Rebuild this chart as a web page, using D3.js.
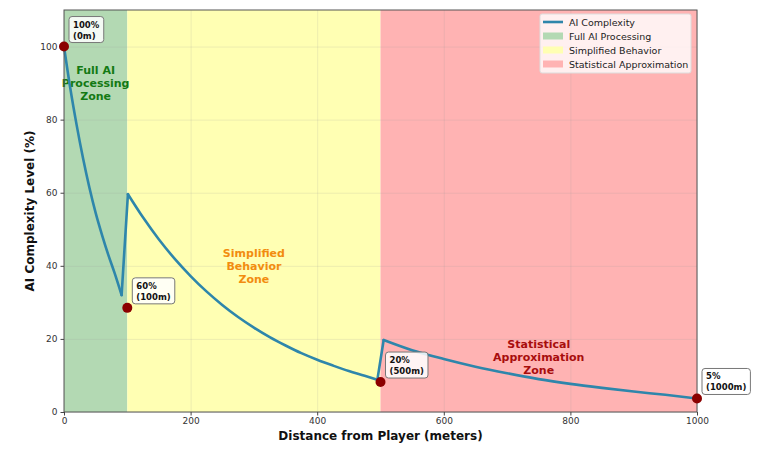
<!DOCTYPE html>
<html>
<head>
<meta charset="utf-8">
<script src="https://cdn.jsdelivr.net/npm/d3@7"></script>
<style>
body { margin: 0; background: #fff; font-family: "DejaVu Sans", sans-serif; }
.tick text { font-size: 9px; fill: #333; font-family: "DejaVu Sans", sans-serif; }
.axis-title { font-size: 12px; font-weight: bold; fill: #111; }
.zone-label { font-size: 11px; font-weight: bold; text-anchor: middle; }
.note { font-size: 8.5px; font-weight: bold; fill: #111; }
.legend text { font-size: 9.5px; fill: #222; }
</style>
</head>
<body>
<div id="chart"></div>
<script>
// curve: distance (m) and complexity (%)
var distances = [0, 10, 20, 30, 40, 50, 60, 70, 80, 91,
                 101, 125, 150, 175, 200, 225, 250, 275, 300, 325, 350, 375, 400, 425, 450, 475, 495,
                 505, 550, 600, 650, 700, 750, 800, 850, 900, 950, 1000];
var complexity = [100, 88.5, 78.5, 69.5, 61.5, 54.5, 48.5, 43, 38, 32,
                  59.6, 53.2, 47.2, 41.9, 37.2, 33.0, 29.3, 26.0, 23.1, 20.5, 18.2, 16.1, 14.3, 12.7, 11.2, 9.9, 8.8,
                  19.7, 16.9, 14.5, 12.4, 10.6, 9.0, 7.7, 6.6, 5.6, 4.7, 3.7];
// index ranges of the three smooth pieces (jumps in between)
var pieces = [[0, 9], [10, 26], [27, 37]];

// marked points
var markX = [0, 100, 500, 1000];
var markY = [100, 28.5, 8.2, 3.7];
var markText = [["100%", "(0m)"], ["60%", "(100m)"], ["20%", "(500m)"], ["5%", "(1000m)"]];

// zones
var zoneNames = ["Full AI Processing", "Simplified Behavior", "Statistical Approximation"];
var zoneStart = [0, 100, 500];
var zoneEnd = [100, 500, 1000];
var zoneColors = ["#b3d9b3", "#ffffb3", "#ffb3b3"];
var zoneLabels = [["Full AI", "Processing", "Zone"], ["Simplified", "Behavior", "Zone"], ["Statistical", "Approximation", "Zone"]];
var zoneLabelX = [50, 300, 750];
var zoneLabelY = [90, 40, 15];
var zoneLabelColors = ["#137a13", "#f28c0f", "#a80d0d"];

var xTicks = [0, 200, 400, 600, 800, 1000];
var yTicks = [0, 20, 40, 60, 80, 100];

var margin = {top: 10, right: 71, bottom: 52, left: 64},
    width = 768 - margin.left - margin.right,
    height = 464 - margin.top - margin.bottom;

var svg = d3.select("#chart").append("svg")
    .attr("width", 768).attr("height", 464)
  .append("g")
    .attr("transform", "translate(" + margin.left + "," + margin.top + ")");

var xScale = d3.scaleLinear().domain([0, 1000]).range([0, width]);
var yScale = d3.scaleLinear().domain([0, 110]).range([height, 0]);

// zone backgrounds
svg.selectAll("rect.zone")
   .data(zoneNames)
   .enter().append("rect")
   .attr("class", "zone")
   .attr("x", function(d, i) { return xScale(zoneStart[i]); })
   .attr("y", 0)
   .attr("width", function(d, i) { return xScale(zoneEnd[i]) - xScale(zoneStart[i]); })
   .attr("height", height)
   .attr("fill", function(d, i) { return zoneColors[i]; });

// grid
svg.append("g")
   .attr("transform", "translate(0," + height + ")")
   .call(d3.axisBottom(xScale).tickValues(xTicks).tickSize(-height).tickFormat(""))
   .call(function(g) { g.select(".domain").remove(); })
   .selectAll("line").attr("stroke", "#999").attr("stroke-opacity", 0.18);
svg.append("g")
   .call(d3.axisLeft(yScale).tickValues(yTicks).tickSize(-width).tickFormat(""))
   .call(function(g) { g.select(".domain").remove(); })
   .selectAll("line").attr("stroke", "#999").attr("stroke-opacity", 0.18);

// zone labels
zoneLabels.forEach(function(lines, i) {
  var t = svg.append("text")
     .attr("class", "zone-label")
     .attr("x", xScale(zoneLabelX[i]))
     .attr("y", yScale(zoneLabelY[i]) - 13 + 4)
     .attr("fill", zoneLabelColors[i]);
  lines.forEach(function(s, j) {
    t.append("tspan").attr("x", xScale(zoneLabelX[i])).attr("dy", j == 0 ? 0 : 13).text(s);
  });
});

// curve: smooth pieces plus straight jumps
var pts = distances.map(function(d, i) { return [d, complexity[i]]; });
var smooth = d3.line().curve(d3.curveMonotoneX)
      .x(function(d) { return xScale(d[0]); })
      .y(function(d) { return yScale(d[1]); });
var straight = d3.line()
      .x(function(d) { return xScale(d[0]); })
      .y(function(d) { return yScale(d[1]); });
var curveG = svg.append("g")
   .attr("fill", "none")
   .attr("stroke", "#2e86ab")
   .attr("stroke-width", 2.6)
   .attr("stroke-linejoin", "round")
   .attr("stroke-linecap", "round");
pieces.forEach(function(p, k) {
  curveG.append("path").attr("d", smooth(pts.slice(p[0], p[1] + 1)));
  if (k < pieces.length - 1) {
    curveG.append("path").attr("d", straight([pts[p[1]], pts[pieces[k + 1][0]]]));
  }
});

// frame
svg.append("rect")
   .attr("width", width).attr("height", height)
   .attr("fill", "none").attr("stroke", "#555").attr("stroke-width", 1);

// axes
var xAxis = svg.append("g")
   .attr("transform", "translate(0," + height + ")")
   .call(d3.axisBottom(xScale).tickValues(xTicks).tickFormat(d3.format("d")).tickSize(3.5).tickPadding(2));
var yAxis = svg.append("g")
   .call(d3.axisLeft(yScale).tickValues(yTicks).tickSize(3.5).tickPadding(3));
[xAxis, yAxis].forEach(function(a) {
  a.select(".domain").remove();
  a.selectAll("line").attr("stroke", "#444");
});

// dots
svg.selectAll("circle.mark")
   .data(markX)
   .enter().append("circle")
   .attr("class", "mark")
   .attr("cx", function(d) { return xScale(d); })
   .attr("cy", function(d, i) { return yScale(markY[i]); })
   .attr("r", 5)
   .attr("fill", "#8b0000");

// annotations
markX.forEach(function(d, i) {
  var bx = xScale(d) + 5, by = yScale(markY[i]) - 4;
  var g = svg.append("g").attr("transform", "translate(" + bx + "," + by + ")");
  var t = g.append("text").attr("class", "note").attr("x", 4).attr("y", -15);
  t.append("tspan").attr("x", 4).attr("dy", 0).text(markText[i][0]);
  t.append("tspan").attr("x", 4).attr("dy", 11).text(markText[i][1]);
  var bb = t.node().getBBox();
  g.insert("rect", "text")
   .attr("x", 0).attr("y", bb.y - 3)
   .attr("width", bb.width + 8).attr("height", bb.height + 5)
   .attr("rx", 3)
   .attr("fill", "#fff").attr("fill-opacity", 0.85)
   .attr("stroke", "#777").attr("stroke-width", 1);
});

// axis titles
svg.append("text")
   .attr("class", "axis-title")
   .attr("text-anchor", "middle")
   .attr("x", width / 2).attr("y", height + 28)
   .text("Distance from Player (meters)");
svg.append("text")
   .attr("class", "axis-title")
   .attr("text-anchor", "middle")
   .attr("transform", "translate(" + (-30) + "," + (height / 2) + ")rotate(-90)")
   .text("AI Complexity Level (%)");

// legend
var lg = svg.append("g").attr("class", "legend")
   .attr("transform", "translate(" + (width - 157) + ",4)");
lg.append("rect")
  .attr("width", 151).attr("height", 59).attr("rx", 2)
  .attr("fill", "#fff").attr("fill-opacity", 0.8)
  .attr("stroke", "#ddd");
var legNames = ["AI Complexity"].concat(zoneNames);
legNames.forEach(function(n, i) {
  var yy = 8 + i * 14;
  if (i == 0) {
    lg.append("line").attr("x1", 3).attr("x2", 23).attr("y1", yy).attr("y2", yy)
      .attr("stroke", "#2e86ab").attr("stroke-width", 2.6);
  } else {
    lg.append("rect").attr("x", 3).attr("y", yy - 3.5).attr("width", 20).attr("height", 7)
      .attr("fill", zoneColors[i - 1]);
  }
  lg.append("text").attr("x", 29).attr("y", yy + 3.5).text(n);
});
</script>
</body>
</html>
